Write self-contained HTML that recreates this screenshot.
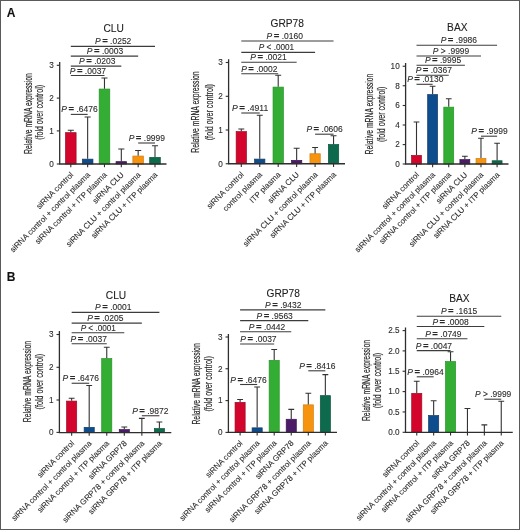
<!DOCTYPE html>
<html><head><meta charset="utf-8"><title>Figure</title>
<style>
html,body{margin:0;padding:0;background:#fff;}
body{width:520px;height:530px;overflow:hidden;}
.fig{position:relative;width:520px;height:530px;background:#fff;}
svg{position:absolute;left:0;top:0;will-change:transform;}
text{font-family:"Liberation Sans",sans-serif;stroke:#2a2a2a;stroke-width:0.1px;}
.yl{stroke-width:0.2px;}
</style></head>
<body><div class="fig">
<svg width="520" height="530" viewBox="0 0 520 530">
<rect x="0.5" y="0.5" width="519" height="529" fill="none" stroke="#5a5a5a" stroke-width="1"/>
<text x="6.8" y="17.2" font-size="12" font-weight="bold" fill="#111">A</text>
<text x="6.8" y="281" font-size="12" font-weight="bold" fill="#111">B</text>
<rect x="65.5" y="132.65" width="10.6" height="31.35" fill="#d3052c" stroke="#9e0a25" stroke-width="0.7"/>
<rect x="82.34" y="159.15" width="10.6" height="4.85" fill="#0d4d8e" stroke="#123a66" stroke-width="0.7"/>
<rect x="99.18" y="89.05" width="10.6" height="74.95" fill="#33ad33" stroke="#279327" stroke-width="0.7"/>
<rect x="116.02" y="161.65" width="10.6" height="2.35" fill="#4b1b68" stroke="#3a1452" stroke-width="0.7"/>
<rect x="132.86" y="156.05" width="10.6" height="7.95" fill="#f6930f" stroke="#d47f10" stroke-width="0.7"/>
<rect x="149.7" y="157.35" width="10.6" height="6.65" fill="#0d6a4c" stroke="#0a533b" stroke-width="0.7"/>
<path d="M70.8 132.3V130.2M67.75 130.2H73.85" stroke="#333" stroke-width="1.1" fill="none"/>
<path d="M87.64 158.8V117M84.59 117H90.69" stroke="#333" stroke-width="1.1" fill="none"/>
<path d="M104.48 88.7V78M101.43 78H107.53" stroke="#333" stroke-width="1.1" fill="none"/>
<path d="M121.32 161.3V149M118.27 149H124.37" stroke="#333" stroke-width="1.1" fill="none"/>
<path d="M138.16 155.7V150.5M135.11 150.5H141.21" stroke="#333" stroke-width="1.1" fill="none"/>
<path d="M155 157V145.7M151.95 145.7H158.05" stroke="#333" stroke-width="1.1" fill="none"/>
<path d="M59.7 62V164H166.5" stroke="#2e2e2e" stroke-width="1.3" fill="none"/>
<path d="M56.8 164H59.7" stroke="#2e2e2e" stroke-width="1.1"/>
<text x="53.8" y="166.87" text-anchor="end" font-size="8.2" fill="#2a2a2a">0</text>
<path d="M56.8 130.9H59.7" stroke="#2e2e2e" stroke-width="1.1"/>
<text x="53.8" y="133.77" text-anchor="end" font-size="8.2" fill="#2a2a2a">1</text>
<path d="M56.8 98.1H59.7" stroke="#2e2e2e" stroke-width="1.1"/>
<text x="53.8" y="100.97" text-anchor="end" font-size="8.2" fill="#2a2a2a">2</text>
<path d="M56.8 65.3H59.7" stroke="#2e2e2e" stroke-width="1.1"/>
<text x="53.8" y="68.17" text-anchor="end" font-size="8.2" fill="#2a2a2a">3</text>
<path d="M70.8 164V167.2" stroke="#2e2e2e" stroke-width="1.1"/>
<path d="M87.64 164V167.2" stroke="#2e2e2e" stroke-width="1.1"/>
<path d="M104.48 164V167.2" stroke="#2e2e2e" stroke-width="1.1"/>
<path d="M121.32 164V167.2" stroke="#2e2e2e" stroke-width="1.1"/>
<path d="M138.16 164V167.2" stroke="#2e2e2e" stroke-width="1.1"/>
<path d="M155 164V167.2" stroke="#2e2e2e" stroke-width="1.1"/>
<text transform="translate(73.8 175.3) rotate(-45)" text-anchor="end" font-size="8" fill="#2a2a2a">siRNA control</text>
<text transform="translate(90.64 175.3) rotate(-45)" text-anchor="end" font-size="8" fill="#2a2a2a">siRNA control + control plasma</text>
<text transform="translate(107.48 175.3) rotate(-45)" text-anchor="end" font-size="8" fill="#2a2a2a">siRNA control + ITP plasma</text>
<text transform="translate(124.32 175.3) rotate(-45)" text-anchor="end" font-size="8" fill="#2a2a2a">siRNA CLU</text>
<text transform="translate(141.16 175.3) rotate(-45)" text-anchor="end" font-size="8" fill="#2a2a2a">siRNA CLU + control plasma</text>
<text transform="translate(158 175.3) rotate(-45)" text-anchor="end" font-size="8" fill="#2a2a2a">siRNA CLU + ITP plasma</text>
<path d="M70.8 114.4H87.64" stroke="#3c3c3c" stroke-width="1.1"/>
<text x="79.52" y="112.4" text-anchor="middle" font-size="8.3" fill="#2a2a2a" textLength="36.3" lengthAdjust="spacingAndGlyphs"><tspan font-style="italic">P</tspan><tspan font-size="9.4" font-weight="bold" dx="1.4">=</tspan> .6476</text>
<path d="M70.8 75.5H104.48" stroke="#3c3c3c" stroke-width="1.1"/>
<text x="87.94" y="73.5" text-anchor="middle" font-size="8.3" fill="#2a2a2a" textLength="36.3" lengthAdjust="spacingAndGlyphs"><tspan font-style="italic">P</tspan><tspan font-size="9.4" font-weight="bold" dx="1.4">=</tspan> .0037</text>
<path d="M70.8 66.1H121.32" stroke="#3c3c3c" stroke-width="1.1"/>
<text x="97.26" y="64.1" text-anchor="middle" font-size="8.3" fill="#2a2a2a" textLength="36.3" lengthAdjust="spacingAndGlyphs"><tspan font-style="italic">P</tspan><tspan font-size="9.4" font-weight="bold" dx="1.4">=</tspan> .0203</text>
<path d="M70.8 56.1H138.16" stroke="#3c3c3c" stroke-width="1.1"/>
<text x="104.98" y="54.1" text-anchor="middle" font-size="8.3" fill="#2a2a2a" textLength="36.3" lengthAdjust="spacingAndGlyphs"><tspan font-style="italic">P</tspan><tspan font-size="9.4" font-weight="bold" dx="1.4">=</tspan> .0003</text>
<path d="M70.8 46.4H155" stroke="#3c3c3c" stroke-width="1.1"/>
<text x="113.2" y="44.4" text-anchor="middle" font-size="8.3" fill="#2a2a2a" textLength="36.3" lengthAdjust="spacingAndGlyphs"><tspan font-style="italic">P</tspan><tspan font-size="9.4" font-weight="bold" dx="1.4">=</tspan> .0252</text>
<path d="M138.16 143H155" stroke="#3c3c3c" stroke-width="1.1"/>
<text x="146.88" y="141" text-anchor="middle" font-size="8.3" fill="#2a2a2a" textLength="36.3" lengthAdjust="spacingAndGlyphs"><tspan font-style="italic">P</tspan><tspan font-size="9.4" font-weight="bold" dx="1.4">=</tspan> .9999</text>
<text x="113.6" y="32.3" text-anchor="middle" font-size="10.2" fill="#1a1a1a">CLU</text>
<text class="yl" transform="translate(31.6 113.6) rotate(-90)" text-anchor="middle" font-size="10.4" fill="#2a2a2a" textLength="80.75" lengthAdjust="spacingAndGlyphs">Relative mRNA expression</text>
<text class="yl" transform="translate(42.6 112.4) rotate(-90)" text-anchor="middle" font-size="10.4" fill="#2a2a2a" textLength="54.9" lengthAdjust="spacingAndGlyphs">(fold over control)</text>
<rect x="236.15" y="131.6" width="10.3" height="32.15" fill="#d3052c" stroke="#9e0a25" stroke-width="0.7"/>
<rect x="254.6" y="159.1" width="10.3" height="4.65" fill="#0d4d8e" stroke="#123a66" stroke-width="0.7"/>
<rect x="273.05" y="87.1" width="10.3" height="76.65" fill="#33ad33" stroke="#279327" stroke-width="0.7"/>
<rect x="291.5" y="160.35" width="10.3" height="3.4" fill="#4b1b68" stroke="#3a1452" stroke-width="0.7"/>
<rect x="309.95" y="153.75" width="10.3" height="10" fill="#f6930f" stroke="#d47f10" stroke-width="0.7"/>
<rect x="328.4" y="144.55" width="10.3" height="19.2" fill="#0d6a4c" stroke="#0a533b" stroke-width="0.7"/>
<path d="M241.3 131.25V129M238.33 129H244.27" stroke="#333" stroke-width="1.1" fill="none"/>
<path d="M259.75 158.75V115.2M256.78 115.2H262.72" stroke="#333" stroke-width="1.1" fill="none"/>
<path d="M278.2 86.75V75.3M275.23 75.3H281.17" stroke="#333" stroke-width="1.1" fill="none"/>
<path d="M296.65 160V148.3M293.68 148.3H299.62" stroke="#333" stroke-width="1.1" fill="none"/>
<path d="M315.1 153.4V147.5M312.13 147.5H318.07" stroke="#333" stroke-width="1.1" fill="none"/>
<path d="M333.55 144.2V135.8M330.58 135.8H336.52" stroke="#333" stroke-width="1.1" fill="none"/>
<path d="M228.6 59.3V163.75H345" stroke="#2e2e2e" stroke-width="1.3" fill="none"/>
<path d="M225.7 163.75H228.6" stroke="#2e2e2e" stroke-width="1.1"/>
<text x="222.7" y="166.62" text-anchor="end" font-size="8.2" fill="#2a2a2a">0</text>
<path d="M225.7 130H228.6" stroke="#2e2e2e" stroke-width="1.1"/>
<text x="222.7" y="132.87" text-anchor="end" font-size="8.2" fill="#2a2a2a">1</text>
<path d="M225.7 96.3H228.6" stroke="#2e2e2e" stroke-width="1.1"/>
<text x="222.7" y="99.17" text-anchor="end" font-size="8.2" fill="#2a2a2a">2</text>
<path d="M225.7 62.5H228.6" stroke="#2e2e2e" stroke-width="1.1"/>
<text x="222.7" y="65.37" text-anchor="end" font-size="8.2" fill="#2a2a2a">3</text>
<path d="M241.3 163.75V166.95" stroke="#2e2e2e" stroke-width="1.1"/>
<path d="M259.75 163.75V166.95" stroke="#2e2e2e" stroke-width="1.1"/>
<path d="M278.2 163.75V166.95" stroke="#2e2e2e" stroke-width="1.1"/>
<path d="M296.65 163.75V166.95" stroke="#2e2e2e" stroke-width="1.1"/>
<path d="M315.1 163.75V166.95" stroke="#2e2e2e" stroke-width="1.1"/>
<path d="M333.55 163.75V166.95" stroke="#2e2e2e" stroke-width="1.1"/>
<text transform="translate(244.3 175.05) rotate(-45)" text-anchor="end" font-size="8" fill="#2a2a2a">siRNA control</text>
<text transform="translate(262.75 175.05) rotate(-45)" text-anchor="end" font-size="8" fill="#2a2a2a">control plasma</text>
<text transform="translate(281.2 175.05) rotate(-45)" text-anchor="end" font-size="8" fill="#2a2a2a">ITP plasma</text>
<text transform="translate(299.65 175.05) rotate(-45)" text-anchor="end" font-size="8" fill="#2a2a2a">siRNA CLU</text>
<text transform="translate(318.1 175.05) rotate(-45)" text-anchor="end" font-size="8" fill="#2a2a2a">siRNA CLU + control plasma</text>
<text transform="translate(336.55 175.05) rotate(-45)" text-anchor="end" font-size="8" fill="#2a2a2a">siRNA CLU + ITP plasma</text>
<path d="M241.3 113H259.75" stroke="#3c3c3c" stroke-width="1.1"/>
<text x="250.08" y="111" text-anchor="middle" font-size="8.3" fill="#2a2a2a" textLength="36.3" lengthAdjust="spacingAndGlyphs"><tspan font-style="italic">P</tspan><tspan font-size="9.4" font-weight="bold" dx="1.4">=</tspan> .4911</text>
<path d="M241.3 73.7H278.2" stroke="#3c3c3c" stroke-width="1.1"/>
<text x="259.35" y="71.7" text-anchor="middle" font-size="8.3" fill="#2a2a2a" textLength="36.3" lengthAdjust="spacingAndGlyphs"><tspan font-style="italic">P</tspan><tspan font-size="9.4" font-weight="bold" dx="1.4">=</tspan> .0002</text>
<path d="M241.3 62.3H296.65" stroke="#3c3c3c" stroke-width="1.1"/>
<text x="268.48" y="60.3" text-anchor="middle" font-size="8.3" fill="#2a2a2a" textLength="36.3" lengthAdjust="spacingAndGlyphs"><tspan font-style="italic">P</tspan><tspan font-size="9.4" font-weight="bold" dx="1.4">=</tspan> .0021</text>
<path d="M241.3 52.4H315.1" stroke="#3c3c3c" stroke-width="1.1"/>
<text x="276.5" y="50.4" text-anchor="middle" font-size="8.3" fill="#2a2a2a" textLength="35.3" lengthAdjust="spacingAndGlyphs"><tspan font-style="italic">P</tspan> &lt; .0001</text>
<path d="M241.3 41H333.55" stroke="#3c3c3c" stroke-width="1.1"/>
<text x="284.73" y="39" text-anchor="middle" font-size="8.3" fill="#2a2a2a" textLength="36.3" lengthAdjust="spacingAndGlyphs"><tspan font-style="italic">P</tspan><tspan font-size="9.4" font-weight="bold" dx="1.4">=</tspan> .0160</text>
<path d="M315.1 134.2H333.55" stroke="#3c3c3c" stroke-width="1.1"/>
<text x="324.63" y="132.2" text-anchor="middle" font-size="8.3" fill="#2a2a2a" textLength="36.3" lengthAdjust="spacingAndGlyphs"><tspan font-style="italic">P</tspan><tspan font-size="9.4" font-weight="bold" dx="1.4">=</tspan> .0606</text>
<text x="287.2" y="26.9" text-anchor="middle" font-size="10.2" fill="#1a1a1a">GRP78</text>
<text class="yl" transform="translate(199.3 112.15) rotate(-90)" text-anchor="middle" font-size="10.4" fill="#2a2a2a" textLength="81.3" lengthAdjust="spacingAndGlyphs">Relative mRNA expression</text>
<text class="yl" transform="translate(212.7 112.15) rotate(-90)" text-anchor="middle" font-size="10.4" fill="#2a2a2a" textLength="56.3" lengthAdjust="spacingAndGlyphs">(fold over control)</text>
<rect x="411.55" y="155.35" width="9.9" height="8.65" fill="#d3052c" stroke="#9e0a25" stroke-width="0.7"/>
<rect x="427.67" y="94.6" width="9.9" height="69.4" fill="#0d4d8e" stroke="#123a66" stroke-width="0.7"/>
<rect x="443.79" y="107.15" width="9.9" height="56.85" fill="#33ad33" stroke="#279327" stroke-width="0.7"/>
<rect x="459.91" y="159.6" width="9.9" height="4.4" fill="#4b1b68" stroke="#3a1452" stroke-width="0.7"/>
<rect x="476.03" y="158.45" width="9.9" height="5.55" fill="#f6930f" stroke="#d47f10" stroke-width="0.7"/>
<rect x="492.15" y="160.75" width="9.9" height="3.25" fill="#0d6a4c" stroke="#0a533b" stroke-width="0.7"/>
<path d="M416.5 155V122M413.64 122H419.36" stroke="#333" stroke-width="1.1" fill="none"/>
<path d="M432.62 94.25V86.25M429.76 86.25H435.48" stroke="#333" stroke-width="1.1" fill="none"/>
<path d="M448.74 106.8V98.75M445.88 98.75H451.6" stroke="#333" stroke-width="1.1" fill="none"/>
<path d="M464.86 159.25V156.25M462 156.25H467.72" stroke="#333" stroke-width="1.1" fill="none"/>
<path d="M480.98 158.1V138.2M478.12 138.2H483.84" stroke="#333" stroke-width="1.1" fill="none"/>
<path d="M497.1 160.4V143.3M494.24 143.3H499.96" stroke="#333" stroke-width="1.1" fill="none"/>
<path d="M405.6 63.1V164H508.5" stroke="#2e2e2e" stroke-width="1.3" fill="none"/>
<path d="M402.7 164H405.6" stroke="#2e2e2e" stroke-width="1.1"/>
<text x="399.7" y="166.87" text-anchor="end" font-size="8.2" fill="#2a2a2a">0</text>
<path d="M402.7 144.6H405.6" stroke="#2e2e2e" stroke-width="1.1"/>
<text x="399.7" y="147.47" text-anchor="end" font-size="8.2" fill="#2a2a2a">2</text>
<path d="M402.7 125H405.6" stroke="#2e2e2e" stroke-width="1.1"/>
<text x="399.7" y="127.87" text-anchor="end" font-size="8.2" fill="#2a2a2a">4</text>
<path d="M402.7 105.5H405.6" stroke="#2e2e2e" stroke-width="1.1"/>
<text x="399.7" y="108.37" text-anchor="end" font-size="8.2" fill="#2a2a2a">6</text>
<path d="M402.7 85.75H405.6" stroke="#2e2e2e" stroke-width="1.1"/>
<text x="399.7" y="88.62" text-anchor="end" font-size="8.2" fill="#2a2a2a">8</text>
<path d="M402.7 66.25H405.6" stroke="#2e2e2e" stroke-width="1.1"/>
<text x="399.7" y="69.12" text-anchor="end" font-size="8.2" fill="#2a2a2a">10</text>
<path d="M416.5 164V167.2" stroke="#2e2e2e" stroke-width="1.1"/>
<path d="M432.62 164V167.2" stroke="#2e2e2e" stroke-width="1.1"/>
<path d="M448.74 164V167.2" stroke="#2e2e2e" stroke-width="1.1"/>
<path d="M464.86 164V167.2" stroke="#2e2e2e" stroke-width="1.1"/>
<path d="M480.98 164V167.2" stroke="#2e2e2e" stroke-width="1.1"/>
<path d="M497.1 164V167.2" stroke="#2e2e2e" stroke-width="1.1"/>
<text transform="translate(419.5 175.3) rotate(-45)" text-anchor="end" font-size="8" fill="#2a2a2a">siRNA control</text>
<text transform="translate(435.62 175.3) rotate(-45)" text-anchor="end" font-size="8" fill="#2a2a2a">siRNA control + control plasma</text>
<text transform="translate(451.74 175.3) rotate(-45)" text-anchor="end" font-size="8" fill="#2a2a2a">siRNA control + ITP plasma</text>
<text transform="translate(467.86 175.3) rotate(-45)" text-anchor="end" font-size="8" fill="#2a2a2a">siRNA CLU</text>
<text transform="translate(483.98 175.3) rotate(-45)" text-anchor="end" font-size="8" fill="#2a2a2a">siRNA CLU + control plasma</text>
<text transform="translate(500.1 175.3) rotate(-45)" text-anchor="end" font-size="8" fill="#2a2a2a">siRNA CLU + ITP plasma</text>
<path d="M416.5 84.3H432.62" stroke="#3c3c3c" stroke-width="1.1"/>
<text x="425.36" y="82.3" text-anchor="middle" font-size="8.3" fill="#2a2a2a" textLength="36.3" lengthAdjust="spacingAndGlyphs"><tspan font-style="italic">P</tspan><tspan font-size="9.4" font-weight="bold" dx="1.4">=</tspan> .0130</text>
<path d="M416.5 75.3H448.74" stroke="#3c3c3c" stroke-width="1.1"/>
<text x="433.82" y="73.3" text-anchor="middle" font-size="8.3" fill="#2a2a2a" textLength="36.3" lengthAdjust="spacingAndGlyphs"><tspan font-style="italic">P</tspan><tspan font-size="9.4" font-weight="bold" dx="1.4">=</tspan> .0367</text>
<path d="M416.5 65.3H464.86" stroke="#3c3c3c" stroke-width="1.1"/>
<text x="443.08" y="63.3" text-anchor="middle" font-size="8.3" fill="#2a2a2a" textLength="36.3" lengthAdjust="spacingAndGlyphs"><tspan font-style="italic">P</tspan><tspan font-size="9.4" font-weight="bold" dx="1.4">=</tspan> .9995</text>
<path d="M416.5 56H480.98" stroke="#3c3c3c" stroke-width="1.1"/>
<text x="451.04" y="54" text-anchor="middle" font-size="8.3" fill="#2a2a2a" textLength="36.3" lengthAdjust="spacingAndGlyphs"><tspan font-style="italic">P</tspan> &gt; .9999</text>
<path d="M416.5 45.25H497.1" stroke="#3c3c3c" stroke-width="1.1"/>
<text x="458.9" y="43.25" text-anchor="middle" font-size="8.3" fill="#2a2a2a" textLength="36.3" lengthAdjust="spacingAndGlyphs"><tspan font-style="italic">P</tspan><tspan font-size="9.4" font-weight="bold" dx="1.4">=</tspan> .9986</text>
<path d="M480.98 136.2H497.1" stroke="#3c3c3c" stroke-width="1.1"/>
<text x="489.54" y="134.2" text-anchor="middle" font-size="8.3" fill="#2a2a2a" textLength="36.3" lengthAdjust="spacingAndGlyphs"><tspan font-style="italic">P</tspan><tspan font-size="9.4" font-weight="bold" dx="1.4">=</tspan> .9999</text>
<text x="457.3" y="31.1" text-anchor="middle" font-size="10.2" fill="#1a1a1a">BAX</text>
<text class="yl" transform="translate(372.6 114.1) rotate(-90)" text-anchor="middle" font-size="10.4" fill="#2a2a2a" textLength="80.6" lengthAdjust="spacingAndGlyphs">Relative mRNA expression</text>
<text class="yl" transform="translate(384.9 114.4) rotate(-90)" text-anchor="middle" font-size="10.4" fill="#2a2a2a" textLength="55.4" lengthAdjust="spacingAndGlyphs">(fold over control)</text>
<rect x="66.6" y="401.1" width="10.1" height="31.45" fill="#d3052c" stroke="#9e0a25" stroke-width="0.7"/>
<rect x="84.15" y="427.35" width="10.1" height="5.2" fill="#0d4d8e" stroke="#123a66" stroke-width="0.7"/>
<rect x="101.7" y="358.6" width="10.1" height="73.95" fill="#33ad33" stroke="#279327" stroke-width="0.7"/>
<rect x="119.25" y="429.6" width="10.1" height="2.95" fill="#4b1b68" stroke="#3a1452" stroke-width="0.7"/>
<rect x="154.35" y="428.6" width="10.1" height="3.95" fill="#0d6a4c" stroke="#0a533b" stroke-width="0.7"/>
<path d="M71.65 400.75V398.25M68.73 398.25H74.57" stroke="#333" stroke-width="1.1" fill="none"/>
<path d="M89.2 427V385.5M86.28 385.5H92.12" stroke="#333" stroke-width="1.1" fill="none"/>
<path d="M106.75 358.25V347.2M103.83 347.2H109.67" stroke="#333" stroke-width="1.1" fill="none"/>
<path d="M124.3 429.25V427M121.38 427H127.22" stroke="#333" stroke-width="1.1" fill="none"/>
<path d="M141.85 432.55V418.4M138.93 418.4H144.77" stroke="#333" stroke-width="1.1" fill="none"/>
<path d="M159.4 428.25V422M156.48 422H162.32" stroke="#333" stroke-width="1.1" fill="none"/>
<path d="M59.4 331V432.55H171.3" stroke="#2e2e2e" stroke-width="1.3" fill="none"/>
<path d="M56.5 432.4H59.4" stroke="#2e2e2e" stroke-width="1.1"/>
<text x="53.5" y="435.27" text-anchor="end" font-size="8.2" fill="#2a2a2a">0</text>
<path d="M56.5 400H59.4" stroke="#2e2e2e" stroke-width="1.1"/>
<text x="53.5" y="402.87" text-anchor="end" font-size="8.2" fill="#2a2a2a">1</text>
<path d="M56.5 367.3H59.4" stroke="#2e2e2e" stroke-width="1.1"/>
<text x="53.5" y="370.17" text-anchor="end" font-size="8.2" fill="#2a2a2a">2</text>
<path d="M56.5 334.5H59.4" stroke="#2e2e2e" stroke-width="1.1"/>
<text x="53.5" y="337.37" text-anchor="end" font-size="8.2" fill="#2a2a2a">3</text>
<path d="M71.65 432.55V435.75" stroke="#2e2e2e" stroke-width="1.1"/>
<path d="M89.2 432.55V435.75" stroke="#2e2e2e" stroke-width="1.1"/>
<path d="M106.75 432.55V435.75" stroke="#2e2e2e" stroke-width="1.1"/>
<path d="M124.3 432.55V435.75" stroke="#2e2e2e" stroke-width="1.1"/>
<path d="M141.85 432.55V435.75" stroke="#2e2e2e" stroke-width="1.1"/>
<path d="M159.4 432.55V435.75" stroke="#2e2e2e" stroke-width="1.1"/>
<text transform="translate(74.65 443.85) rotate(-45)" text-anchor="end" font-size="8" fill="#2a2a2a">siRNA control</text>
<text transform="translate(92.2 443.85) rotate(-45)" text-anchor="end" font-size="8" fill="#2a2a2a">siRNA control + control plasma</text>
<text transform="translate(109.75 443.85) rotate(-45)" text-anchor="end" font-size="8" fill="#2a2a2a">siRNA control + ITP plasma</text>
<text transform="translate(127.3 443.85) rotate(-45)" text-anchor="end" font-size="8" fill="#2a2a2a">siRNA GRP78</text>
<text transform="translate(144.85 443.85) rotate(-45)" text-anchor="end" font-size="8" fill="#2a2a2a">siRNA GRP78 + control plasma</text>
<text transform="translate(162.4 443.85) rotate(-45)" text-anchor="end" font-size="8" fill="#2a2a2a">siRNA GRP78 + ITP plasma</text>
<path d="M71.65 383.25H89.2" stroke="#3c3c3c" stroke-width="1.1"/>
<text x="80.73" y="381.25" text-anchor="middle" font-size="8.3" fill="#2a2a2a" textLength="36.3" lengthAdjust="spacingAndGlyphs"><tspan font-style="italic">P</tspan><tspan font-size="9.4" font-weight="bold" dx="1.4">=</tspan> .6476</text>
<path d="M71.65 343.75H106.75" stroke="#3c3c3c" stroke-width="1.1"/>
<text x="88.75" y="341.75" text-anchor="middle" font-size="8.3" fill="#2a2a2a" textLength="36.3" lengthAdjust="spacingAndGlyphs"><tspan font-style="italic">P</tspan><tspan font-size="9.4" font-weight="bold" dx="1.4">=</tspan> .0037</text>
<path d="M71.65 332.8H124.3" stroke="#3c3c3c" stroke-width="1.1"/>
<text x="98.28" y="330.8" text-anchor="middle" font-size="8.3" fill="#2a2a2a" textLength="35.3" lengthAdjust="spacingAndGlyphs"><tspan font-style="italic">P</tspan> &lt; .0001</text>
<path d="M71.65 323.1H141.85" stroke="#3c3c3c" stroke-width="1.1"/>
<text x="105.3" y="321.1" text-anchor="middle" font-size="8.3" fill="#2a2a2a" textLength="36.3" lengthAdjust="spacingAndGlyphs"><tspan font-style="italic">P</tspan><tspan font-size="9.4" font-weight="bold" dx="1.4">=</tspan> .0205</text>
<path d="M71.65 312.4H159.4" stroke="#3c3c3c" stroke-width="1.1"/>
<text x="113.23" y="310.4" text-anchor="middle" font-size="8.3" fill="#2a2a2a" textLength="36.3" lengthAdjust="spacingAndGlyphs"><tspan font-style="italic">P</tspan><tspan font-size="9.4" font-weight="bold" dx="1.4">=</tspan> .0001</text>
<path d="M141.85 415.75H159.4" stroke="#3c3c3c" stroke-width="1.1"/>
<text x="150.33" y="413.75" text-anchor="middle" font-size="8.3" fill="#2a2a2a" textLength="36.3" lengthAdjust="spacingAndGlyphs"><tspan font-style="italic">P</tspan><tspan font-size="9.4" font-weight="bold" dx="1.4">=</tspan> .9872</text>
<text x="116" y="299" text-anchor="middle" font-size="10.2" fill="#1a1a1a">CLU</text>
<text class="yl" transform="translate(30.9 381.65) rotate(-90)" text-anchor="middle" font-size="10.4" fill="#2a2a2a" textLength="81.3" lengthAdjust="spacingAndGlyphs">Relative mRNA expression</text>
<text class="yl" transform="translate(43.4 381.7) rotate(-90)" text-anchor="middle" font-size="10.4" fill="#2a2a2a" textLength="55.4" lengthAdjust="spacingAndGlyphs">(fold over control)</text>
<rect x="235.05" y="402.35" width="10.1" height="30.05" fill="#d3052c" stroke="#9e0a25" stroke-width="0.7"/>
<rect x="252.1" y="427.85" width="10.1" height="4.55" fill="#0d4d8e" stroke="#123a66" stroke-width="0.7"/>
<rect x="269.15" y="360.35" width="10.1" height="72.05" fill="#33ad33" stroke="#279327" stroke-width="0.7"/>
<rect x="286.2" y="419.25" width="10.1" height="13.15" fill="#4b1b68" stroke="#3a1452" stroke-width="0.7"/>
<rect x="303.25" y="404.85" width="10.1" height="27.55" fill="#f6930f" stroke="#d47f10" stroke-width="0.7"/>
<rect x="320.3" y="395.65" width="10.1" height="36.75" fill="#0d6a4c" stroke="#0a533b" stroke-width="0.7"/>
<path d="M240.1 402V399.5M237.18 399.5H243.02" stroke="#333" stroke-width="1.1" fill="none"/>
<path d="M257.15 427.5V387M254.23 387H260.07" stroke="#333" stroke-width="1.1" fill="none"/>
<path d="M274.2 360V349.5M271.28 349.5H277.12" stroke="#333" stroke-width="1.1" fill="none"/>
<path d="M291.25 418.9V409.4M288.33 409.4H294.17" stroke="#333" stroke-width="1.1" fill="none"/>
<path d="M308.3 404.5V393.2M305.38 393.2H311.22" stroke="#333" stroke-width="1.1" fill="none"/>
<path d="M325.35 395.3V374.6M322.43 374.6H328.27" stroke="#333" stroke-width="1.1" fill="none"/>
<path d="M228.4 334V432.4H337" stroke="#2e2e2e" stroke-width="1.3" fill="none"/>
<path d="M225.5 432.4H228.4" stroke="#2e2e2e" stroke-width="1.1"/>
<text x="222.5" y="435.27" text-anchor="end" font-size="8.2" fill="#2a2a2a">0</text>
<path d="M225.5 400.6H228.4" stroke="#2e2e2e" stroke-width="1.1"/>
<text x="222.5" y="403.47" text-anchor="end" font-size="8.2" fill="#2a2a2a">1</text>
<path d="M225.5 368.75H228.4" stroke="#2e2e2e" stroke-width="1.1"/>
<text x="222.5" y="371.62" text-anchor="end" font-size="8.2" fill="#2a2a2a">2</text>
<path d="M225.5 337H228.4" stroke="#2e2e2e" stroke-width="1.1"/>
<text x="222.5" y="339.87" text-anchor="end" font-size="8.2" fill="#2a2a2a">3</text>
<path d="M240.1 432.4V435.6" stroke="#2e2e2e" stroke-width="1.1"/>
<path d="M257.15 432.4V435.6" stroke="#2e2e2e" stroke-width="1.1"/>
<path d="M274.2 432.4V435.6" stroke="#2e2e2e" stroke-width="1.1"/>
<path d="M291.25 432.4V435.6" stroke="#2e2e2e" stroke-width="1.1"/>
<path d="M308.3 432.4V435.6" stroke="#2e2e2e" stroke-width="1.1"/>
<path d="M325.35 432.4V435.6" stroke="#2e2e2e" stroke-width="1.1"/>
<text transform="translate(243.1 443.7) rotate(-45)" text-anchor="end" font-size="8" fill="#2a2a2a">siRNA control</text>
<text transform="translate(260.15 443.7) rotate(-45)" text-anchor="end" font-size="8" fill="#2a2a2a">siRNA control + control plasma</text>
<text transform="translate(277.2 443.7) rotate(-45)" text-anchor="end" font-size="8" fill="#2a2a2a">siRNA control + ITP plasma</text>
<text transform="translate(294.25 443.7) rotate(-45)" text-anchor="end" font-size="8" fill="#2a2a2a">siRNA GRP78</text>
<text transform="translate(311.3 443.7) rotate(-45)" text-anchor="end" font-size="8" fill="#2a2a2a">siRNA GRP78 + control plasma</text>
<text transform="translate(328.35 443.7) rotate(-45)" text-anchor="end" font-size="8" fill="#2a2a2a">siRNA GRP78 + ITP plasma</text>
<path d="M240.1 384.5H257.15" stroke="#3c3c3c" stroke-width="1.1"/>
<text x="248.53" y="382.5" text-anchor="middle" font-size="8.3" fill="#2a2a2a" textLength="36.3" lengthAdjust="spacingAndGlyphs"><tspan font-style="italic">P</tspan><tspan font-size="9.4" font-weight="bold" dx="1.4">=</tspan> .6476</text>
<path d="M240.1 344H274.2" stroke="#3c3c3c" stroke-width="1.1"/>
<text x="258.45" y="342" text-anchor="middle" font-size="8.3" fill="#2a2a2a" textLength="36.3" lengthAdjust="spacingAndGlyphs"><tspan font-style="italic">P</tspan><tspan font-size="9.4" font-weight="bold" dx="1.4">=</tspan> .0037</text>
<path d="M240.1 331.7H291.25" stroke="#3c3c3c" stroke-width="1.1"/>
<text x="266.98" y="329.7" text-anchor="middle" font-size="8.3" fill="#2a2a2a" textLength="36.3" lengthAdjust="spacingAndGlyphs"><tspan font-style="italic">P</tspan><tspan font-size="9.4" font-weight="bold" dx="1.4">=</tspan> .0442</text>
<path d="M240.1 320.6H308.3" stroke="#3c3c3c" stroke-width="1.1"/>
<text x="274.7" y="318.6" text-anchor="middle" font-size="8.3" fill="#2a2a2a" textLength="36.3" lengthAdjust="spacingAndGlyphs"><tspan font-style="italic">P</tspan><tspan font-size="9.4" font-weight="bold" dx="1.4">=</tspan> .9563</text>
<path d="M240.1 309.9H325.35" stroke="#3c3c3c" stroke-width="1.1"/>
<text x="283.23" y="307.9" text-anchor="middle" font-size="8.3" fill="#2a2a2a" textLength="36.3" lengthAdjust="spacingAndGlyphs"><tspan font-style="italic">P</tspan><tspan font-size="9.4" font-weight="bold" dx="1.4">=</tspan> .9432</text>
<path d="M308.3 370.8H325.35" stroke="#3c3c3c" stroke-width="1.1"/>
<text x="317.33" y="368.8" text-anchor="middle" font-size="8.3" fill="#2a2a2a" textLength="36.3" lengthAdjust="spacingAndGlyphs"><tspan font-style="italic">P</tspan><tspan font-size="9.4" font-weight="bold" dx="1.4">=</tspan> .8416</text>
<text x="283.2" y="296.6" text-anchor="middle" font-size="10.2" fill="#1a1a1a">GRP78</text>
<text class="yl" transform="translate(199.8 383.95) rotate(-90)" text-anchor="middle" font-size="10.4" fill="#2a2a2a" textLength="81.3" lengthAdjust="spacingAndGlyphs">Relative mRNA expression</text>
<text class="yl" transform="translate(212.2 383.9) rotate(-90)" text-anchor="middle" font-size="10.4" fill="#2a2a2a" textLength="55.4" lengthAdjust="spacingAndGlyphs">(fold over control)</text>
<rect x="411.7" y="393.35" width="10.1" height="38.95" fill="#d3052c" stroke="#9e0a25" stroke-width="0.7"/>
<rect x="428.6" y="415.55" width="10.1" height="16.75" fill="#0d4d8e" stroke="#123a66" stroke-width="0.7"/>
<rect x="445.5" y="361.55" width="10.1" height="70.75" fill="#33ad33" stroke="#279327" stroke-width="0.7"/>
<path d="M416.75 393V381.2M413.83 381.2H419.67" stroke="#333" stroke-width="1.1" fill="none"/>
<path d="M433.65 415.2V400.8M430.73 400.8H436.57" stroke="#333" stroke-width="1.1" fill="none"/>
<path d="M450.55 361.2V351.7M447.63 351.7H453.47" stroke="#333" stroke-width="1.1" fill="none"/>
<path d="M467.45 432.3V408.5M464.53 408.5H470.37" stroke="#333" stroke-width="1.1" fill="none"/>
<path d="M484.35 432.3V424.9M481.43 424.9H487.27" stroke="#333" stroke-width="1.1" fill="none"/>
<path d="M501.25 432.3V401.3M498.33 401.3H504.17" stroke="#333" stroke-width="1.1" fill="none"/>
<path d="M405.5 327.5V432.3H512.75" stroke="#2e2e2e" stroke-width="1.3" fill="none"/>
<path d="M402.6 432.3H405.5" stroke="#2e2e2e" stroke-width="1.1"/>
<text x="399.6" y="435.17" text-anchor="end" font-size="8.2" fill="#2a2a2a">0.0</text>
<path d="M402.6 411.95H405.5" stroke="#2e2e2e" stroke-width="1.1"/>
<text x="399.6" y="414.82" text-anchor="end" font-size="8.2" fill="#2a2a2a">0.5</text>
<path d="M402.6 391.6H405.5" stroke="#2e2e2e" stroke-width="1.1"/>
<text x="399.6" y="394.47" text-anchor="end" font-size="8.2" fill="#2a2a2a">1.0</text>
<path d="M402.6 371.25H405.5" stroke="#2e2e2e" stroke-width="1.1"/>
<text x="399.6" y="374.12" text-anchor="end" font-size="8.2" fill="#2a2a2a">1.5</text>
<path d="M402.6 350.9H405.5" stroke="#2e2e2e" stroke-width="1.1"/>
<text x="399.6" y="353.77" text-anchor="end" font-size="8.2" fill="#2a2a2a">2.0</text>
<path d="M402.6 330.6H405.5" stroke="#2e2e2e" stroke-width="1.1"/>
<text x="399.6" y="333.47" text-anchor="end" font-size="8.2" fill="#2a2a2a">2.5</text>
<path d="M416.75 432.3V435.5" stroke="#2e2e2e" stroke-width="1.1"/>
<path d="M433.65 432.3V435.5" stroke="#2e2e2e" stroke-width="1.1"/>
<path d="M450.55 432.3V435.5" stroke="#2e2e2e" stroke-width="1.1"/>
<path d="M467.45 432.3V435.5" stroke="#2e2e2e" stroke-width="1.1"/>
<path d="M484.35 432.3V435.5" stroke="#2e2e2e" stroke-width="1.1"/>
<path d="M501.25 432.3V435.5" stroke="#2e2e2e" stroke-width="1.1"/>
<text transform="translate(419.75 443.6) rotate(-45)" text-anchor="end" font-size="8" fill="#2a2a2a">siRNA control</text>
<text transform="translate(436.65 443.6) rotate(-45)" text-anchor="end" font-size="8" fill="#2a2a2a">siRNA control + control plasma</text>
<text transform="translate(453.55 443.6) rotate(-45)" text-anchor="end" font-size="8" fill="#2a2a2a">siRNA control + ITP plasma</text>
<text transform="translate(470.45 443.6) rotate(-45)" text-anchor="end" font-size="8" fill="#2a2a2a">siRNA GRP78</text>
<text transform="translate(487.35 443.6) rotate(-45)" text-anchor="end" font-size="8" fill="#2a2a2a">siRNA GRP78 + control plasma</text>
<text transform="translate(504.25 443.6) rotate(-45)" text-anchor="end" font-size="8" fill="#2a2a2a">siRNA GRP78 + ITP plasma</text>
<path d="M416.75 376.8H433.65" stroke="#3c3c3c" stroke-width="1.1"/>
<text x="425.5" y="374.8" text-anchor="middle" font-size="8.3" fill="#2a2a2a" textLength="36.3" lengthAdjust="spacingAndGlyphs"><tspan font-style="italic">P</tspan><tspan font-size="9.4" font-weight="bold" dx="1.4">=</tspan> .0964</text>
<path d="M416.75 350.6H450.55" stroke="#3c3c3c" stroke-width="1.1"/>
<text x="433.95" y="348.6" text-anchor="middle" font-size="8.3" fill="#2a2a2a" textLength="36.3" lengthAdjust="spacingAndGlyphs"><tspan font-style="italic">P</tspan><tspan font-size="9.4" font-weight="bold" dx="1.4">=</tspan> .0047</text>
<path d="M416.75 338.7H467.45" stroke="#3c3c3c" stroke-width="1.1"/>
<text x="443.4" y="336.7" text-anchor="middle" font-size="8.3" fill="#2a2a2a" textLength="36.3" lengthAdjust="spacingAndGlyphs"><tspan font-style="italic">P</tspan><tspan font-size="9.4" font-weight="bold" dx="1.4">=</tspan> .0749</text>
<path d="M416.75 326.5H484.35" stroke="#3c3c3c" stroke-width="1.1"/>
<text x="450.55" y="324.5" text-anchor="middle" font-size="8.3" fill="#2a2a2a" textLength="36.3" lengthAdjust="spacingAndGlyphs"><tspan font-style="italic">P</tspan><tspan font-size="9.4" font-weight="bold" dx="1.4">=</tspan> .0008</text>
<path d="M416.75 316.25H501.25" stroke="#3c3c3c" stroke-width="1.1"/>
<text x="459.15" y="314.25" text-anchor="middle" font-size="8.3" fill="#2a2a2a" textLength="36.3" lengthAdjust="spacingAndGlyphs"><tspan font-style="italic">P</tspan><tspan font-size="9.4" font-weight="bold" dx="1.4">=</tspan> .1615</text>
<path d="M484.35 399.2H501.25" stroke="#3c3c3c" stroke-width="1.1"/>
<text x="493.1" y="397.2" text-anchor="middle" font-size="8.3" fill="#2a2a2a" textLength="36.3" lengthAdjust="spacingAndGlyphs"><tspan font-style="italic">P</tspan> &gt; .9999</text>
<text x="459.4" y="302.3" text-anchor="middle" font-size="10.2" fill="#1a1a1a">BAX</text>
<text class="yl" transform="translate(370.2 380.5) rotate(-90)" text-anchor="middle" font-size="10.4" fill="#2a2a2a" textLength="81.2" lengthAdjust="spacingAndGlyphs">Relative mRNA expression</text>
<text class="yl" transform="translate(381.1 380.5) rotate(-90)" text-anchor="middle" font-size="10.4" fill="#2a2a2a" textLength="55.4" lengthAdjust="spacingAndGlyphs">(fold over control)</text>
</svg></div></body></html>
